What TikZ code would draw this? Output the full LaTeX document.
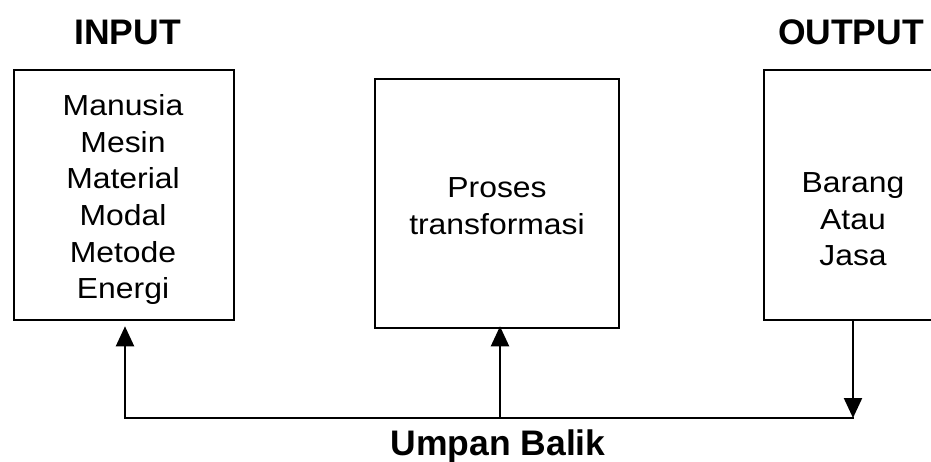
\documentclass[tikz,border=0pt]{standalone}
\usepackage{fontspec}
\setmainfont{Liberation Sans}
\newfontfamily\bodyfont[FakeStretch=1.1]{Liberation Sans}
\usetikzlibrary{arrows.meta,calc}
\begin{document}
\begin{tikzpicture}[x=1pt,y=-1pt,
  box/.style={draw,line width=2.6pt,inner sep=0pt},
  body/.style={inner sep=0pt,anchor=north,align=center,font=\bodyfont\fontsize{29}{36.6}\selectfont},
  head/.style={inner sep=0pt,anchor=base,font=\fontsize{35.5}{40}\selectfont\bfseries},
  ln/.style={line width=2.4pt},
  arr/.style={line width=2.2pt,-{Triangle[width=18pt,length=20pt]}}]
\useasboundingbox (0,0) rectangle (931,462);
\clip (0,0) rectangle (931,462);
% boxes
\node[box,minimum width=220pt,minimum height=250pt] (in) at (124,195) {};
\node[box,minimum width=244pt,minimum height=249pt] (proc) at (497,203.5) {};
\node[box,minimum width=178pt,minimum height=250pt] (out) at (853,195) {};
% texts
\node[body] (intext) at (123,94.5) {Manusia\\Mesin\\Material\\Modal\\Metode\\Energi};
\node[body] (proctext) at (497,177.5) {Proses\\transformasi};
\node[body] (outtext) at (853,172.5) {Barang\\Atau\\Jasa};
\node[head] (inlabel) at (127.5,45) {INPUT};
\node[head] (outlabel) at (851,45) {OUTPUT};
\node[head] (fblabel) at (498,455) {Umpan Balik};
% feedback
\coordinate (cL) at (125,418);
\coordinate (cM) at (500,418);
\coordinate (cR) at (853,418);
\draw[ln,line cap=rect] (cR) -- (cL);
\draw[arr,shorten >=5pt] (cL) -- (cL |- in.south);
\draw[arr,shorten >=-3pt] (cM) -- (cM |- proc.south);
\draw[arr] (out.south) -- (cR);
\end{tikzpicture}
\end{document}
